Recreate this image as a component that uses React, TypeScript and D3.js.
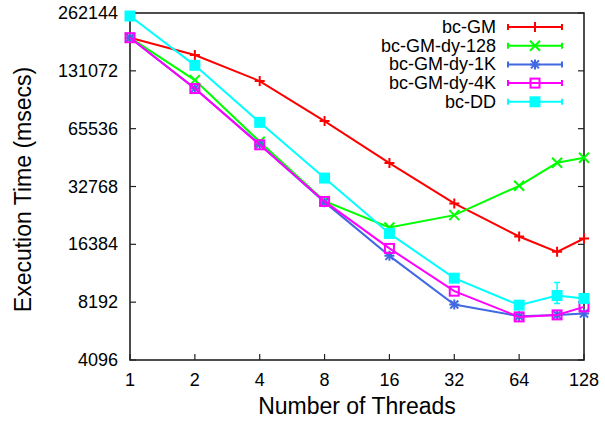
import * as d3 from "d3";
import * as React from "react";

const threads = [1, 2, 4, 8, 16, 32, 64, 96, 128];
const xTicks = [1, 2, 4, 8, 16, 32, 64, 128];
const yTicks = [4096, 8192, 16384, 32768, 65536, 131072, 262144];

const bcGM = [195000, 158400, 116000, 71800, 43400, 26750, 18000, 14980, 17570];
const bcGMdy128 = [195000, 117300, 56000, 27500, 20060, 23250, 33040, 43540, 46240];
const bcGMdy1K = [195000, 106250, 54270, 27170, 14270, 7970, 6926, 7033, 7152];
const bcGMdy4K = [195000, 106000, 54000, 27400, 15600, 9345, 6865, 7033, 7745];
const bcDD = [252800, 140000, 70680, 36250, 18670, 10920, 7903, 8877, 8566];
// low / high of the one visible error bar (bc-DD at 96 threads)
const bcDDErrLow = [null, null, null, null, null, null, null, 8066, null];
const bcDDErrHigh = [null, null, null, null, null, null, null, 10375, null];

const seriesNames = ["bc-GM", "bc-GM-dy-128", "bc-GM-dy-1K", "bc-GM-dy-4K", "bc-DD"];
const seriesColors = ["#ff0000", "#00ff00", "#4169e1", "#ff00ff", "#00ffff"];
const seriesMarkers = ["plus", "cross", "star", "box", "fbox"];

const W = 605,
  H = 421;
const margin = { top: 13, right: 21, bottom: 61, left: 130 };

function drawMarker(g: any, kind: string, cx: number, cy: number, color: string) {
  const s = 5;
  if (kind === "plus" || kind === "star") {
    g.append("path")
      .attr("d", `M${cx - s},${cy}H${cx + s}M${cx},${cy - s}V${cy + s}`)
      .attr("stroke", color)
      .attr("stroke-width", 2);
  }
  if (kind === "cross" || kind === "star") {
    const k = kind === "star" ? 4 : 5;
    g.append("path")
      .attr("d", `M${cx - k},${cy - k}L${cx + k},${cy + k}M${cx - k},${cy + k}L${cx + k},${cy - k}`)
      .attr("stroke", color)
      .attr("stroke-width", 2);
  }
  if (kind === "box") {
    g.append("rect")
      .attr("x", cx - 4.5)
      .attr("y", cy - 4.5)
      .attr("width", 9)
      .attr("height", 9)
      .attr("fill", "none")
      .attr("stroke", color)
      .attr("stroke-width", 2);
  }
  if (kind === "fbox") {
    g.append("rect")
      .attr("x", cx - 5.5)
      .attr("y", cy - 5.5)
      .attr("width", 11)
      .attr("height", 11)
      .attr("fill", color);
  }
}

export default function App() {
  const ref = React.useRef<SVGSVGElement>(null);

  React.useEffect(() => {
    const svg = d3.select(ref.current as SVGSVGElement);
    svg.selectAll("*").remove();

    const x = d3.scaleLog().base(2).domain([1, 128]).range([margin.left, W - margin.right]);
    const y = d3.scaleLog().base(2).domain([4096, 262144]).range([H - margin.bottom, margin.top]);
    const font = "'Liberation Sans', Arial, Helvetica, sans-serif";

    // ticks
    const ax = svg.append("g").attr("font-family", font).attr("font-size", 18).attr("fill", "#000");
    yTicks.forEach((t) => {
      const yy = y(t);
      ax.append("line")
        .attr("x1", margin.left)
        .attr("x2", margin.left + 6)
        .attr("y1", yy)
        .attr("y2", yy)
        .attr("stroke", "#222")
        .attr("stroke-width", 1.2);
      ax.append("line")
        .attr("x1", W - margin.right)
        .attr("x2", W - margin.right - 6)
        .attr("y1", yy)
        .attr("y2", yy)
        .attr("stroke", "#222")
        .attr("stroke-width", 1.2);
      ax.append("text")
        .attr("x", 118)
        .attr("y", yy + 6)
        .attr("text-anchor", "end")
        .text(String(t));
    });
    xTicks.forEach((t) => {
      const xx = x(t);
      ax.append("line")
        .attr("x1", xx)
        .attr("x2", xx)
        .attr("y1", H - margin.bottom)
        .attr("y2", H - margin.bottom - 6)
        .attr("stroke", "#222")
        .attr("stroke-width", 1.2);
      ax.append("text")
        .attr("x", xx)
        .attr("y", 386)
        .attr("text-anchor", "middle")
        .text(String(t));
    });

    // border
    svg.append("rect")
      .attr("x", margin.left)
      .attr("y", margin.top)
      .attr("width", W - margin.left - margin.right)
      .attr("height", H - margin.top - margin.bottom)
      .attr("fill", "none")
      .attr("stroke", "#222")
      .attr("stroke-width", 1.6);

    // axis titles
    svg.append("text")
      .attr("x", (margin.left + W - margin.right) / 2)
      .attr("y", 414)
      .attr("text-anchor", "middle")
      .attr("font-family", font)
      .attr("font-size", 23)
      .text("Number of Threads");
    svg.append("text")
      .attr("transform", `translate(31,${(margin.top + H - margin.bottom) / 2 + 3}) rotate(-90)`)
      .attr("text-anchor", "middle")
      .attr("font-family", font)
      .attr("font-size", 23)
      .text("Execution Time (msecs)");

    const allSeries = [bcGM, bcGMdy128, bcGMdy1K, bcGMdy4K, bcDD];
    const line = d3
      .line<number>()
      .x((d, i) => x(threads[i]))
      .y((d) => y(d));

    allSeries.forEach((vals, si) => {
      const color = seriesColors[si];
      const g = svg.append("g");
      g.append("path")
        .attr("d", line(vals))
        .attr("fill", "none")
        .attr("stroke", color)
        .attr("stroke-width", 2);
      if (si === 4) {
        bcDDErrLow.forEach((lo, i) => {
          const hi = bcDDErrHigh[i];
          if (lo == null || hi == null) return;
          const xx = x(threads[i]);
          g.append("path")
            .attr("d", `M${xx},${y(lo)}V${y(hi)}M${xx - 3},${y(lo)}H${xx + 3}M${xx - 3},${y(hi)}H${xx + 3}`)
            .attr("stroke", color)
            .attr("stroke-width", 1.5)
            .attr("fill", "none");
        });
      }
      vals.forEach((v, i) => drawMarker(g, seriesMarkers[si], x(threads[i]), y(v), color));

      // legend entry
      const ly = 27 + si * 18.7;
      svg.append("text")
        .attr("x", 496)
        .attr("y", ly + 6)
        .attr("text-anchor", "end")
        .attr("font-family", font)
        .attr("font-size", 18)
        .text(seriesNames[si]);
      svg.append("path")
        .attr("d", `M508,${ly}H562M508,${ly - 3}V${ly + 3}M562,${ly - 3}V${ly + 3}`)
        .attr("stroke", color)
        .attr("stroke-width", 2)
        .attr("fill", "none");
      drawMarker(svg, seriesMarkers[si], 535, ly, color);
    });
  }, []);

  return (
    <svg
      ref={ref}
      width={W}
      height={H}
      style={{ position: "absolute", left: 0, top: 0, background: "#fff" }}
    />
  );
}
